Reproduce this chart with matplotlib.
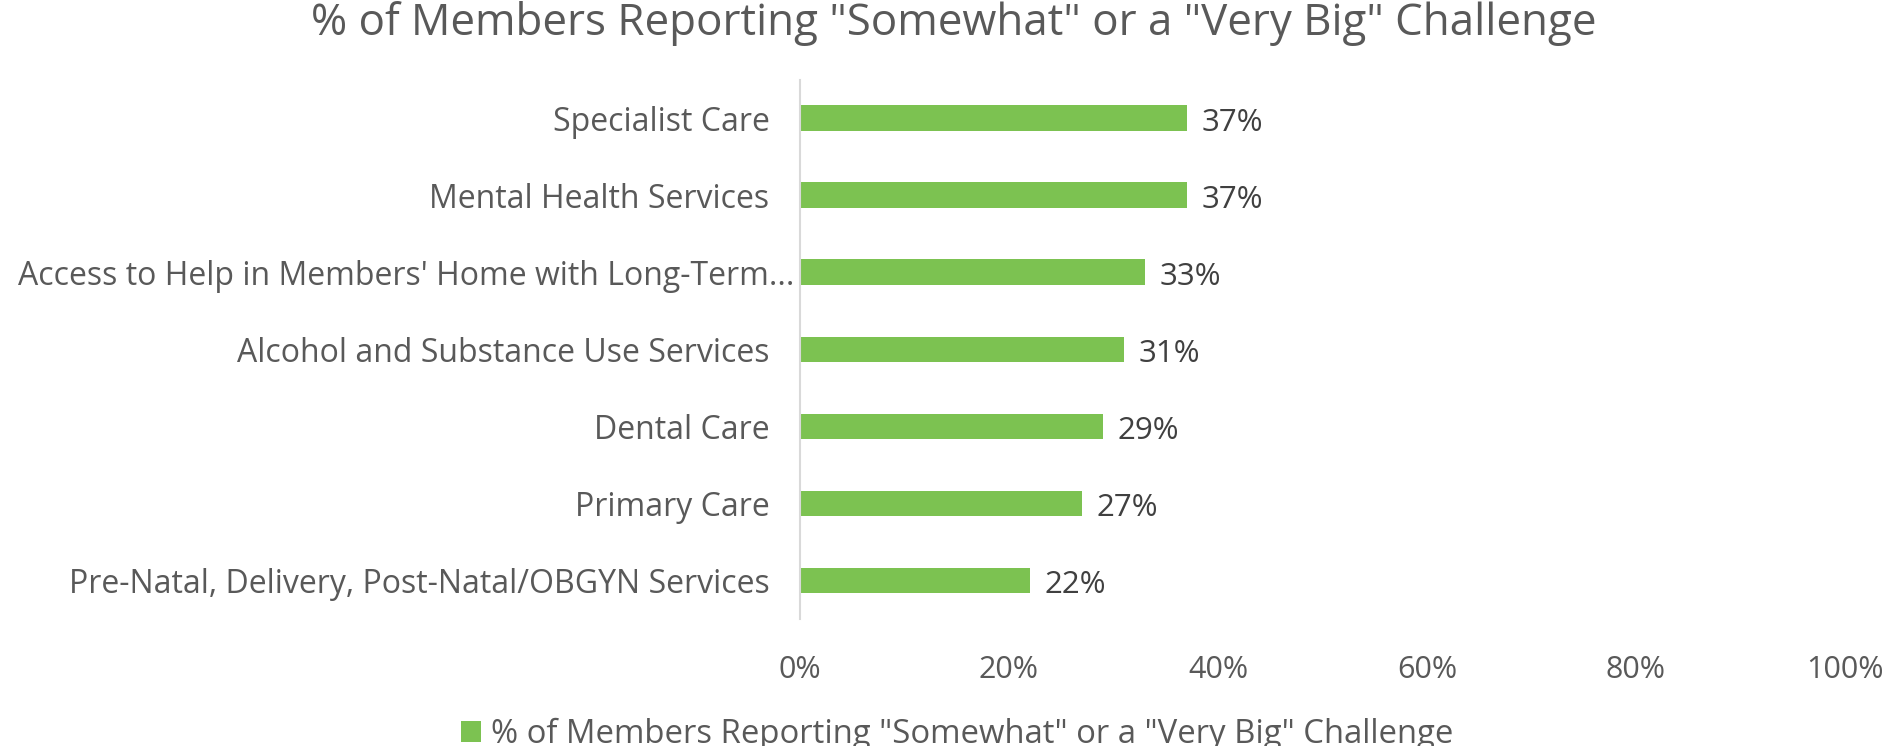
import matplotlib.pyplot as plt
import matplotlib.transforms as mtransforms
import numpy as np
from matplotlib.ticker import PercentFormatter

plt.rcParams['font.family'] = ['Open Sans', 'DejaVu Sans']

title = '% of Members Reporting "Somewhat" or a "Very Big" Challenge'
categories = [
    'Specialist Care',
    'Mental Health Services',
    "Access to Help in Members' Home with Long-Term...",
    'Alcohol and Substance Use Services',
    'Dental Care',
    'Primary Care',
    'Pre-Natal, Delivery, Post-Natal/OBGYN Services',
]
values = [37, 37, 33, 31, 29, 27, 22]
xticks = [0, 20, 40, 60, 80, 100]

green = '#7CC251'
grey = '#595959'

fig = plt.figure(figsize=(18.88, 7.46), dpi=100)
ax = fig.add_axes([0.4237, 0.1702, 0.5535, 0.7232])

y = np.arange(len(categories))
bars = ax.barh(y, values, height=0.33, color=green, label=title)
ax.set_ylim(len(categories) - 0.5, -0.5)
ax.set_xlim(0, 100)
ax.set_yticks(y, categories)
ax.set_xticks(xticks)
ax.xaxis.set_major_formatter(PercentFormatter(decimals=0))
ax.tick_params(axis='y', length=0, labelsize=23, labelcolor=grey, pad=22)
ax.tick_params(axis='x', length=0, labelsize=22, labelcolor=grey, pad=26)

# the truncated label sits a bit further right, like excel does it
lbl = ax.get_yticklabels()[2]
lbl.set_transform(lbl.get_transform() + mtransforms.ScaledTranslation(0.25, 0, fig.dpi_scale_trans))

for s in ['top', 'right', 'bottom']:
    ax.spines[s].set_visible(False)
ax.spines['left'].set_color('#D9D9D9')
ax.spines['left'].set_linewidth(1.5)

for b, v in zip(bars, values):
    ax.text(b.get_width() + 1.4, b.get_y() + b.get_height() / 2 + 0.06, f'{v}%',
            va='center', ha='left', fontsize=22.5, color='#404040')

fig.text(0.505, 0.968, title, ha='center', va='center', fontsize=31.6, color=grey)

fig.legend(handles=[bars], labels=[title], loc='center', bbox_to_anchor=(0.507, 0.016),
           frameon=False, fontsize=23.7, labelcolor=grey, handlelength=0.6,
           handleheight=0.6, handletextpad=0.3)

fig.savefig('out.png', dpi=100)
